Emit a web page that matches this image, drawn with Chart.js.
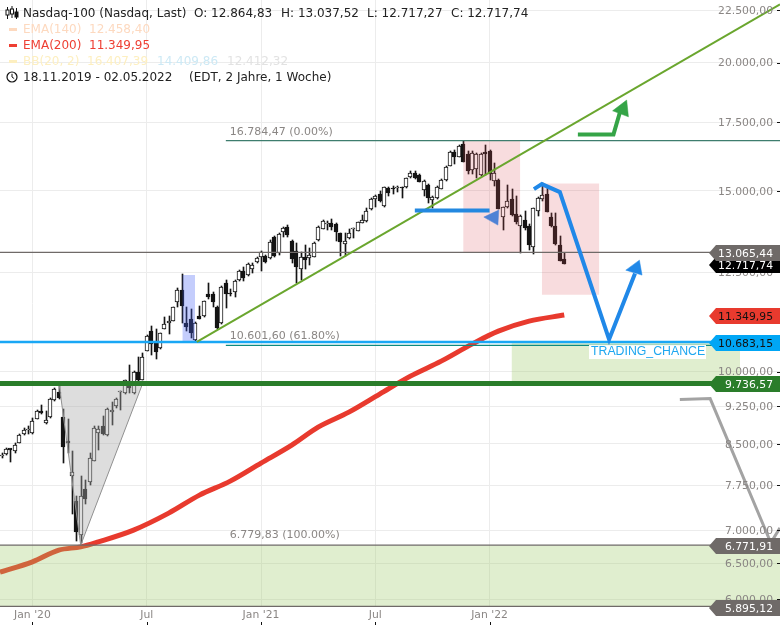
<!DOCTYPE html>
<html lang="de">
<head>
<meta charset="utf-8">
<title>Nasdaq-100</title>
<script src="https://cdn.jsdelivr.net/npm/chart.js@4/dist/chart.umd.min.js"></script>
<style>
html,body{margin:0;padding:0;background:#fff;}
#wrap{position:relative;width:780px;height:625px;overflow:hidden;font-family:"DejaVu Sans",sans-serif;}
canvas{position:absolute;left:0;top:0;}
.t{position:absolute;font-size:12px;line-height:14px;white-space:pre;color:#222;}
.d{position:absolute;left:9px;width:8px;height:3px;}
svg{position:absolute;}
</style>
</head>
<body>
<div id="wrap">
<canvas id="c" width="780" height="625"></canvas>
<svg style="left:5px;top:6px" width="14" height="14" viewBox="0 0 14 14"><path d="M2.5 1v12M7 0v12M11.5 2v11" stroke="#111" fill="none"/><rect x="1" y="4" width="3" height="5" fill="#fff" stroke="#111"/><rect x="5.5" y="3" width="3" height="5" fill="#fff" stroke="#111"/><rect x="10" y="6" width="3" height="5" fill="#111" stroke="#111"/></svg>
<svg style="left:6px;top:71px" width="12" height="12" viewBox="0 0 12 12"><circle cx="6" cy="6" r="5" fill="none" stroke="#111" stroke-width="1.2"/><path d="M6 2.8V6l2.2 1.6" fill="none" stroke="#111"/></svg>
<div class="t" style="left:23px;top:6px">Nasdaq-100 (Nasdaq, Last)</div>
<div class="t" style="left:194px;top:6px">O: 12.864,83</div>
<div class="t" style="left:281px;top:6px">H: 13.037,52</div>
<div class="t" style="left:367px;top:6px">L: 12.717,27</div>
<div class="t" style="left:451px;top:6px">C: 12.717,74</div>
<div class="d" style="top:28px;background:#fdd9bf"></div>
<div class="t" style="left:23px;top:22px;color:#fdd9bf">EMA(140)</div>
<div class="t" style="left:89px;top:22px;color:#fdd9bf">12.458,40</div>
<div class="d" style="top:44px;background:#ee3f33"></div>
<div class="t" style="left:23px;top:38px;color:#ee3f33">EMA(200)</div>
<div class="t" style="left:89px;top:38px;color:#ee3f33">11.349,95</div>
<div class="d" style="top:60px;background:#fdefc0"></div>
<div class="t" style="left:23px;top:54px;color:#fdefc0">BB(20, 2)</div>
<div class="t" style="left:87px;top:54px;color:#fdefc0">16.407,39</div>
<div class="t" style="left:157px;top:54px;color:#cde9f5">14.409,86</div>
<div class="t" style="left:227px;top:54px;color:#e2e2e2">12.412,32</div>
<div class="t" style="left:23px;top:70px">18.11.2019 - 02.05.2022</div>
<div class="t" style="left:189px;top:70px">(EDT, 2 Jahre, 1 Woche)</div>
</div>
<script>
const opens=[8265,8301,8395,8369,8520,8682,8760,8702,8999,9135,8900,9020,9377,9553,9031,8540,7906,7477,6927,7674,7806,8183,8720,8850,8669,9140,9263,9540,9525,9765,9525,9990,9820,10475,10955,10650,10532,11012,11150,11203,11692,12003,11138,11246,10729,11315,11330,11895,11895,11560,11138,12185,11915,11940,12267,12518,12406,12574,12782,12917,12955,12897,13527,13033,13663,13815,13390,13100,12590,12917,12905,12935,13428,13775,13920,13940,13920,13637,13317,13480,13760,13712,13960,14023,14385,14733,14880,14494,15091,15060,15085,15090,15115,15457,15622,15535,15024,15185,14700,14747,15058,15365,15865,16350,16190,16658,16277,15713,15750,15535,16375,16400,15340,15365,14150,14450,14713,14236,13860,14045,13860,13230,14340,14723,14890,14130,13860,13280,12864.83];
const highs=[8320,8432,8400,8520,8688,8800,8845,9011,9169,9273,9155,9426,9627,9718,9183,8979,8363,7555,7906,7836,8320,8850,8845,9047,9215,9342,9413,9575,9815,10143,10015,10320,10415,10850,11070,11013,10900,11290,11323,11560,12050,12440,11545,11500,11180,11592,11720,12185,11950,11587,12110,12275,12030,12275,12554,12648,12762,12762,12917,13100,12985,13428,13550,13630,13815,13877,13428,13330,13080,13280,13180,13360,13850,14045,14005,14067,13950,13655,13655,13755,13785,13995,14205,14418,14747,14855,14990,15137,15137,15160,15160,15115,15445,15665,15675,15570,15365,15220,14822,15160,15390,15865,16400,16434,16620,16784,16400,16400,16336,16312,16620,16434,15950,15400,14460,15195,15047,14830,14205,14332,13910,14440,14800,15272,15115,14260,14260,13550,13037.52];
const lows=[8228,8288,8165,8332,8515,8669,8688,8700,8995,9100,8895,9018,9362,9398,8136,8320,7260,6840,6800,7425,7750,8172,8382,8669,8650,8866,9215,9169,9518,9525,9505,9790,9812,10468,10373,10274,10525,11000,10868,11195,11545,11138,10955,10770,10705,11238,11305,11762,11545,10996,11123,11520,11850,11825,12248,12248,12390,12462,12762,12526,12762,12877,12935,12985,13527,13527,12745,12200,12275,12600,12696,12917,13408,13755,13733,13733,13408,12955,12955,13458,13480,13702,13940,13990,14364,14470,14635,14470,14822,14890,14966,14765,15100,15445,15400,15285,14832,14580,14418,14723,15048,15340,15855,15915,16168,15985,15575,15575,15450,15510,15535,15365,15155,14385,13733,14418,14184,13910,13060,13733,13130,13015,14172,14667,14290,13838,13280,12810,12717.27];
const closes=[8275,8395,8392,8471,8669,8766,8766,8951,9155,9120,8965,9392,9605,9426,8445,8525,7984,6978,7563,7520,8227,8819,8780,8688,9203,9143,9392,9545,9807,9634,9990,9807,10320,10826,10634,10452,10892,11113,11160,11545,12003,11587,11055,10906,11138,11240,11702,11815,11677,11014,12075,11900,11895,12248,12518,12338,12725,12686,12888,13080,12782,13376,12955,13610,13785,13570,12877,12648,12917,12848,12985,13330,13815,14023,13925,13835,13680,13376,13400,13660,13765,13974,14045,14332,14713,14822,14667,15115,14933,15055,15095,15082,15423,15622,15423,15307,15330,14750,14800,15138,15365,15830,16350,16168,16582,16010,15688,16336,16288,16288,16288,15560,15595,14396,14450,14667,14205,13990,14172,13806,13280,14418,14747,14855,14310,13860,13310,12820,12717.74];

const emaWeeks=[-0.39,7,13,18,22,30,38,45,52,59,66,72,79,86,93,100,107,113,120,128];
const emaValues=[6375,6524,6698,6747,6823,7005,7277,7577,7819,8142,8477,8826,9128,9505,9896,10235,10634,10947,11196,11349.95];

const yTicks=[22500,20000,17500,15000,12500,10000,9250,8500,7750,7000,6500,6000];
const xTickWeeks=[7,33,59,85,111];
const xTickLabels=["Jan '20","Jul","Jan '21","Jul","Jan '22"];

const fibHigh=16784.47, fibMid=10601.60, fibLow=6771.91, fibLowLabel=6779.83;
const resistance=13065.44, support=10683.15, greenLevel=9736.57, floorLevel=5895.12, lastClose=12717.74, ema200Last=11349.95;
const weekMin=-0.387, weekMax=177.09, yMin=5895.12, yMax=23017, fibStartWeek=51;

const trendWeeks=[44.4,177.09], trendValues=[10688,22796];
const triangleWeeks=[13.04,17.97,32.08], triangleValues=[9736.57,6771.91,9736.57];
const blueBoxWeeks=[41.1,44.0], blueBoxValues=[12415,10688];
const pink1Weeks=[105,118], pink1Values=[16784.47,13065.44];
const pink2Weeks=[122.9,135.97], pink2Values=[15251,11878];
const greenBoxWeeks=[116,168], greenBoxValues=[10683.15,9736.57];
const floorBoxWeeks=[-0.39,177.09], floorBoxValues=[6771.91,5895.12];

const bluePathWeeks=[121.1,122.9,127,138.2,144.1], bluePathValues=[15058,15227,14957,10746,12462];
const blueHeadWeeks=[145.1,142.0,145.7], blueHeadValues=[12839,12554,12415];
const flatArrowWeeks=[94,111], flatArrowValues=[14354,14354];
const flatHeadWeeks=[109.7,113.1,112.9], flatHeadValues=[14140,14364,13889];
const greenPathWeeks=[131.1,139.2,140.7], greenPathValues=[17024,17024,17910];
const greenHeadWeeks=[142.2,139.0,142.6], greenHeadValues=[18386,17950,17710];
const greyPathWeeks=[154.3,161.2,175,177.09], greyPathValues=[9390,9410,6810,7040];

const tagValues=[lastClose,resistance,ema200Last,support,greenLevel,fibLow,floorLevel];
const tagFills=['#000000','#6f6a68','#e83a2e','#00a6f5','#2a7d2a','#6f6a68','#6f6a68'];
const tagInks=['#ffffff','#ffffff','#111111','#111111','#ffffff','#ffffff','#ffffff'];

function fmt(v){
  const s=v.toFixed(2).split('.');
  return s[0].replace(/\B(?=(\d{3})+$)/g,'.')+','+s[1];
}
function pts(xs,ys){return xs.map((x,i)=>({x:x,y:ys[i]}));}
function path(xs,ys,color,width,order,extra){
  return Object.assign({type:'line',data:pts(xs,ys),borderColor:color,borderWidth:width,pointRadius:0,fill:false,tension:0,order:order,borderCapStyle:'butt',borderJoinStyle:'miter'},extra||{});
}
function level(v,color,width,order,from){
  return path([from===undefined?weekMin:from,weekMax],[v,v],color,width,order);
}
function box(xs,ys,color,order){
  return {type:'line',data:pts(xs,[ys[0],ys[0]]),borderWidth:0,borderColor:'transparent',backgroundColor:color,pointRadius:0,fill:{value:ys[1]},order:order};
}
function head(xs,ys,color,order){
  return {type:'line',data:pts(xs.concat(xs[0]),ys.concat(ys[0])),borderWidth:0.5,borderColor:color,backgroundColor:color,pointRadius:0,fill:'shape',order:order};
}

const wicks=opens.map((o,i)=>({x:i,y:[lows[i],highs[i]]}));
const bodies=opens.map((o,i)=>({x:i,y:[Math.min(o,closes[i]),Math.max(o,closes[i])]}));
const bodyFill=opens.map((o,i)=>closes[i]>o?'#ffffff':'#141414');

const crisp={
  id:'crisp',
  beforeDatasetsDraw(chart){
    [0,1].forEach(d=>{
      chart.getDatasetMeta(d).data.forEach(el=>{
        el.x=Math.round(el.x)+(d===0?0.5:0);
        el.y=Math.round(el.y);
        el.base=Math.round(el.base);
        if(el.base===el.y){el.base=el.y+2;}
      });
    });
  }
};

const overlay={
  id:'overlay',
  afterDraw(chart){
    const ctx=chart.ctx, y=chart.scales.y, x=chart.scales.x;
    ctx.save();
    ctx.font='11px "DejaVu Sans"';
    ctx.textBaseline='middle';
    ctx.fillStyle='#8a8684';
    ctx.textAlign='left';
    const xl=x.getPixelForValue(fibStartWeek)+4;
    ctx.fillText('16.784,47 (0.00%)',xl,y.getPixelForValue(fibHigh)-9);
    ctx.fillText('10.601,60 (61.80%)',xl,y.getPixelForValue(fibMid)-9);
    ctx.fillText('6.779,83 (100.00%)',xl,y.getPixelForValue(fibLowLabel)-10);
    const ty=y.getPixelForValue(support)+10;
    ctx.fillStyle='#ffffff';
    ctx.fillRect(589,ty-7,117,14);
    ctx.fillStyle='#1ea7f0';
    ctx.font='12.3px "Liberation Sans"';
    ctx.fillText('TRADING_CHANCE',591,ty);
    ctx.fillStyle='#111';
    yTicks.forEach(v=>ctx.fillRect(777,Math.round(y.getPixelForValue(v)),3,1));
    xTickWeeks.forEach(v=>ctx.fillRect(Math.round(x.getPixelForValue(v)),622,1,3));
    ctx.font='10.8px "DejaVu Sans"';
    ctx.textAlign='right';
    tagValues.forEach((v,i)=>{
      const c=Math.round(y.getPixelForValue(v))+1;
      ctx.fillStyle=tagFills[i];
      ctx.beginPath();
      ctx.moveTo(709,c);ctx.lineTo(716,c-8);ctx.lineTo(780,c-8);ctx.lineTo(780,c+8);ctx.lineTo(716,c+8);
      ctx.closePath();ctx.fill();
    });
    tagValues.forEach((v,i)=>{
      const c=Math.round(y.getPixelForValue(v))+1;
      ctx.fillStyle=tagInks[i];
      ctx.fillText(fmt(v),773,c+1);
    });
    ctx.restore();
  }
};

new Chart(document.getElementById('c'),{
  type:'bar',
  data:{datasets:[
    {type:'bar',data:wicks,barThickness:1,backgroundColor:'#141414',grouped:false,order:50},
    {type:'bar',data:bodies,barThickness:4,backgroundColor:bodyFill,borderColor:'#141414',borderWidth:1,borderSkipped:false,minBarLength:1.5,grouped:false,order:49},
    path(emaWeeks,emaValues,'#e83a2e',5,40,{borderJoinStyle:'round',cubicInterpolationMode:'monotone'}),
    box(blueBoxWeeks,blueBoxValues,'rgba(70,100,245,0.32)',30),
    box(pink1Weeks,pink1Values,'rgba(222,80,90,0.2)',29),
    box(pink2Weeks,pink2Values,'rgba(222,80,90,0.2)',28),
    box(greenBoxWeeks,greenBoxValues,'rgba(152,198,95,0.3)',27),
    box(floorBoxWeeks,floorBoxValues,'rgba(152,198,95,0.3)',26),
    {type:'line',data:pts(triangleWeeks,triangleValues),borderColor:'#909090',borderWidth:1,backgroundColor:'rgba(170,170,170,0.4)',pointRadius:0,fill:{value:greenLevel},order:25},
    level(fibHigh,'#3e7d6e',1.2,24,fibStartWeek),
    level(fibMid,'#0d8a80',1.2,23,fibStartWeek),
    level(resistance,'#6f6a68',1.2,22),
    level(fibLow,'#6f6a68',1.2,21),
    level(floorLevel,'#6f6a68',2.4,20),
    level(support,'#19a7f5',2.5,19),
    level(greenLevel,'#2a7d2a',5,18),
    path(trendWeeks,trendValues,'#6aa62e',2,17),
    path(flatArrowWeeks,flatArrowValues,'#2388e0',4,16),
    head(flatHeadWeeks,flatHeadValues,'#4f82d5',15),
    path(bluePathWeeks,bluePathValues,'#2088e8',4,14),
    head(blueHeadWeeks,blueHeadValues,'#2088e8',13),
    path(greenPathWeeks,greenPathValues,'#35a447',4,12),
    head(greenHeadWeeks,greenHeadValues,'#35a447',11),
    path(greyPathWeeks,greyPathValues,'#a3a3a3',3,10)
  ]},
  options:{
    responsive:false,animation:false,events:[],
    layout:{autoPadding:false,padding:0},
    plugins:{legend:{display:false},tooltip:{enabled:false}},
    scales:{
      x:{type:'linear',min:weekMin,max:weekMax,position:'bottom',offset:false,
        afterFit(s){s.height=18;s.paddingLeft=0;s.paddingRight=0;},
        afterBuildTicks(s){s.ticks=xTickWeeks.map(v=>({value:v}));},
        border:{display:false},
        grid:{color:'#ececec',drawTicks:false,offset:false},
        ticks:{autoSkip:false,maxRotation:0,padding:2,color:'#8a8684',font:{family:'"DejaVu Sans"',size:10.8},
          callback(v){const i=xTickWeeks.indexOf(v);return i<0?'':xTickLabels[i];}}
      },
      y:{type:'logarithmic',min:yMin,max:yMax,position:'right',bounds:'data',
        afterFit(s){s.width=0;s.paddingTop=0;s.paddingBottom=0;},
        afterBuildTicks(s){s.ticks=yTicks.map(v=>({value:v}));},
        border:{display:false},
        grid:{color:'#ececec',drawTicks:false},
        ticks:{mirror:true,autoSkip:false,padding:-7,labelOffset:1,z:1,color:'#8a8684',font:{family:'"DejaVu Sans"',size:10.8},
          callback(v){return fmt(v);}}
      }
    }
  },
  plugins:[crisp,overlay]
});
</script>
</body>
</html>
